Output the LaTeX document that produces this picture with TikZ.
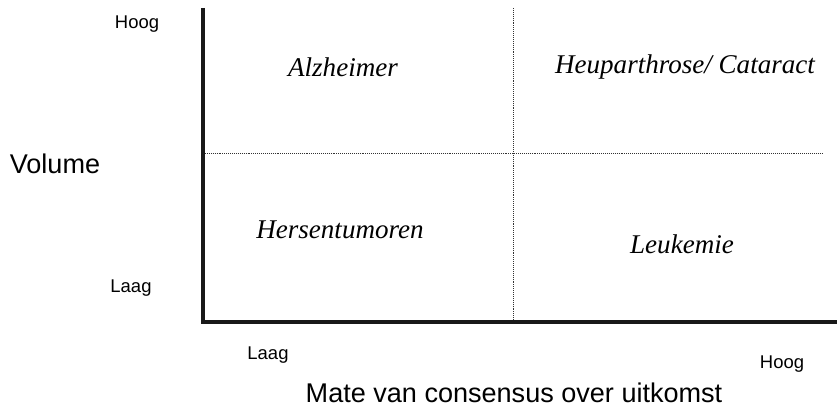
\documentclass[tikz,border=0pt]{standalone}
\usepackage{fontspec}
\setmainfont{Liberation Serif}
\newfontfamily\labelfont{Liberation Sans}
\usepackage{tikz}

\begin{document}
\begin{tikzpicture}[x=0.02cm, y=-0.02cm, thick,
  cell/.style = {font=\fontsize{15.4}{18}\selectfont\itshape},
  tick/.style = {font=\labelfont\fontsize{10.5}{12}\selectfont},
  axlabel/.style = {font=\labelfont\fontsize{15.4}{18}\selectfont},
  grid/.style = {line width=0.55pt, dash pattern=on 0.55pt off 0.55pt, black!80}]
  \useasboundingbox (0,0) rectangle (837,412);
  \coordinate (1) at (203, 8);
  \coordinate (2) at (203, 322);
  \coordinate (3) at (837, 322);
  \coordinate (4) at (205, 153);
  \coordinate (5) at (823, 153);
  \coordinate (6) at (513, 8);
  \coordinate (7) at (513, 322);
  \node[cell] (8) at (343, 67) {Alzheimer};
  \node[cell] (9) at (685, 67) {Heuparthrose/ Cataract};
  \node[cell] (10) at (340, 230) {Hersentumoren};
  \node[cell] (11) at (682, 244) {Leukemie};
  \node[tick] (12) at (137, 24) {Hoog};
  \node[tick] (13) at (131, 288) {Laag};
  \node[tick] (14) at (268, 355) {Laag};
  \node[tick] (15) at (782, 364) {Hoog};
  \node[axlabel] (16) at (55, 164) {Volume};
  \node[axlabel] (17) at (514, 393) {Mate van consensus over uitkomst};
  \draw[grid] (4) to (5);
  \draw[grid] (6) to (7);
  \draw[line width=2.6pt, black!90] (1) to (2) to (3);
\end{tikzpicture}
\end{document}
